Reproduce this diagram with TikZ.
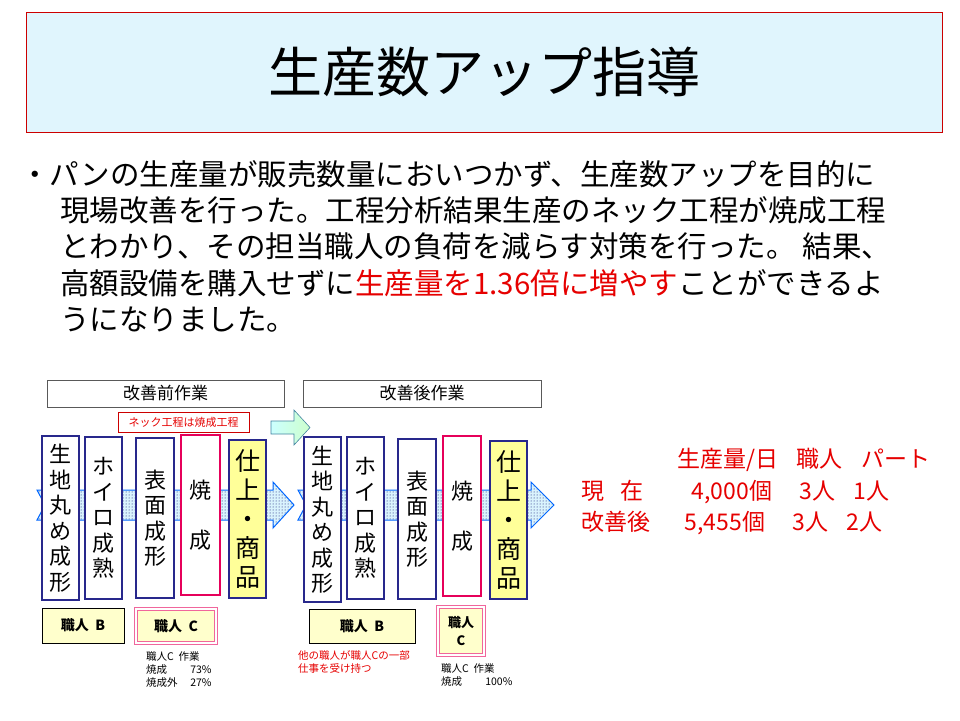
\documentclass[tikz,border=0pt]{standalone}
\usepackage{fontspec}
\setmainfont{Noto Sans CJK JP}
\usetikzlibrary{patterns,shapes.arrows}
\definecolor{navy}{RGB}{40,40,140}
\definecolor{pinkred}{RGB}{230,0,90}
\definecolor{lyel}{RGB}{255,255,153}
\definecolor{tan}{RGB}{255,255,204}
\definecolor{rtxt}{RGB}{230,0,0}
\tikzset{x=1pt,y=-1pt,
 vbox/.style={draw=navy,line width=2pt,fill=white},
 bbox/.style={draw=pinkred,line width=2pt,fill=white},
 ybox/.style={draw=navy,line width=2pt,fill=lyel},
 vt/.style={font=\fontsize{22}{25.5}\selectfont,align=center,inner sep=0},
 hdr/.style={draw=gray!70!black,line width=1pt,fill=white,font=\fontsize{17}{20}\selectfont},
 wk/.style={draw=black,line width=0.8pt,fill=tan,font=\bfseries\fontsize{14}{16}\selectfont,align=center},
 wkc/.style={draw=pinkred!60,line width=0.8pt,double=white,double distance=1.5pt,fill=tan,font=\bfseries\fontsize{14}{16}\selectfont,align=center},
 sm/.style={font=\fontsize{10.5}{13}\selectfont,align=left,anchor=north west,inner sep=0},
 rt/.style={anchor=west,text=rtxt,inner sep=0,font=\fontsize{23}{26}\selectfont}
}
\begin{document}
\begin{tikzpicture}
\useasboundingbox (0,0) rectangle (960,720);
\fill[white] (0,0) rectangle (960,720);
% title
\node[draw=red!80!black,line width=1pt,fill=cyan!12,minimum width=916,minimum height=120,font=\fontsize{54}{58}\selectfont] (title) at (484,72) {生産数アップ指導};
% body text
\node[anchor=north west,align=left,inner sep=0,font=\fontsize{29.5}{36.3}\selectfont] (body) at (20,160)
{・パンの生産量が販売数量においつかず、生産数アップを目的に\\
\hspace*{40pt}現場改善を行った。工程分析結果生産のネック工程が焼成工程\\
\hspace*{40pt}とわかり、その担当職人の負荷を減らす対策を行った。 結果、\\
\hspace*{40pt}高額設備を購入せずに{\color{rtxt}生産量を1.36倍に増やす}ことができるよ\\
\hspace*{40pt}うになりました。};
% flow arrows
\fill[fill=cyan!15] (37,490) -- (273,490) -- (273,482) -- (294,505) -- (273,528) -- (273,520) -- (37,520) -- (45,505) -- cycle;
\draw[draw=blue!60!cyan,line width=1pt,pattern=dots,pattern color=blue!40!black] (37,490) -- (273,490) -- (273,482) -- (294,505) -- (273,528) -- (273,520) -- (37,520) -- (45,505) -- cycle;
\fill[fill=cyan!15] (298,490) -- (531,490) -- (531,482) -- (554,505) -- (531,528) -- (531,520) -- (298,520) -- (306,505) -- cycle;
\draw[draw=blue!60!cyan,line width=1pt,pattern=dots,pattern color=blue!40!black] (298,490) -- (531,490) -- (531,482) -- (554,505) -- (531,528) -- (531,520) -- (298,520) -- (306,505) -- cycle;
% headers
\node[hdr,minimum width=237,minimum height=27] (h1) at (165.5,393.5) {改善前作業};
\node[hdr,minimum width=238,minimum height=27] (h2) at (422,393.5) {改善後作業};
\node[draw=red!80!black,line width=0.8pt,fill=white,text=rtxt,font=\fontsize{11}{13}\selectfont,minimum width=131,minimum height=20,inner sep=0] (neck) at (183.5,422) {ネック工程は焼成工程};
% green arrow
\shade[left color=cyan!20,right color=green!20,draw=cyan!60!black,line width=0.6pt] (271,421) -- (294,421) -- (294,410) -- (310,427.5) -- (294,445) -- (294,434) -- (271,434) -- cycle;
% before boxes
\node[vbox,minimum width=37,minimum height=164] (a1) at (60.5,518) {};
\node[vt] at (a1) {生\\地\\丸\\め\\成\\形};
\node[vbox,minimum width=37,minimum height=162] (a2) at (103.5,518) {};
\node[vt] at (a2) {ホ\\イ\\ロ\\成\\熟};
\node[vbox,minimum width=38,minimum height=160] (a3) at (155,518) {};
\node[vt] at (a3) {表\\面\\成\\形};
\node[bbox,minimum width=39,minimum height=160] (a4) at (200.5,515) {};
\node[vt,font=\fontsize{22}{50}\selectfont] at (a4) {焼\\成};
\node[ybox,minimum width=37,minimum height=158] (a5) at (247.5,519) {};
\node[vt,font=\fontsize{25}{29}\selectfont] at (a5) {仕\\上\\・\\商\\品};
% after boxes
\node[vbox,minimum width=37,minimum height=165] (b1) at (322.5,519.5) {};
\node[vt] at (b1) {生\\地\\丸\\め\\成\\形};
\node[vbox,minimum width=37,minimum height=162] (b2) at (365.5,518) {};
\node[vt] at (b2) {ホ\\イ\\ロ\\成\\熟};
\node[vbox,minimum width=38,minimum height=160] (b3) at (417,519) {};
\node[vt] at (b3) {表\\面\\成\\形};
\node[bbox,minimum width=38,minimum height=160] (b4) at (462,516) {};
\node[vt,font=\fontsize{22}{50}\selectfont] at (b4) {焼\\成};
\node[ybox,minimum width=37,minimum height=158] (b5) at (508.5,520) {};
\node[vt,font=\fontsize{25}{29}\selectfont] at (b5) {仕\\上\\・\\商\\品};
% workers
\node[wk,minimum width=82,minimum height=35] (wB1) at (83,625.5) {職人\ \ B};
\node[wkc,minimum width=80,minimum height=34] (wC1) at (176,626) {職人\ \ C};
\node[wk,minimum width=106,minimum height=34] (wB2) at (362,626) {職人\ \ B};
\node[wkc,minimum width=46,minimum height=48,inner sep=1pt,font=\bfseries\fontsize{13}{18}\selectfont] (wC2) at (461,631) {職人\\C};
% small texts
\node[sm] (s1) at (146,651) {職人C\ \ 作業\\焼成\hspace{2.2em}73\%\\焼成外\hspace{1.2em}27\%};
\node[sm,text=rtxt] (s2) at (298,650) {他の職人が職人Cの一部\\仕事を受け持つ};
\node[sm] (s3) at (441,663) {職人C\ \ 作業\\焼成\hspace{2.2em}100\%};
% right table
\node[rt] (t0) at (677,460) {生産量/日\hspace{0.8em}職人\hspace{0.8em}パート};
\node[rt] (t1) at (581,492) {現\hspace{0.7em}在\hspace{2.1em}4,000個\hspace{1.2em}3人\hspace{0.8em}1人};
\node[rt] (t2) at (581,523) {改善後\hspace{1.5em}5,455個\hspace{1.2em}3人\hspace{0.8em}2人};
\end{tikzpicture}
\end{document}
